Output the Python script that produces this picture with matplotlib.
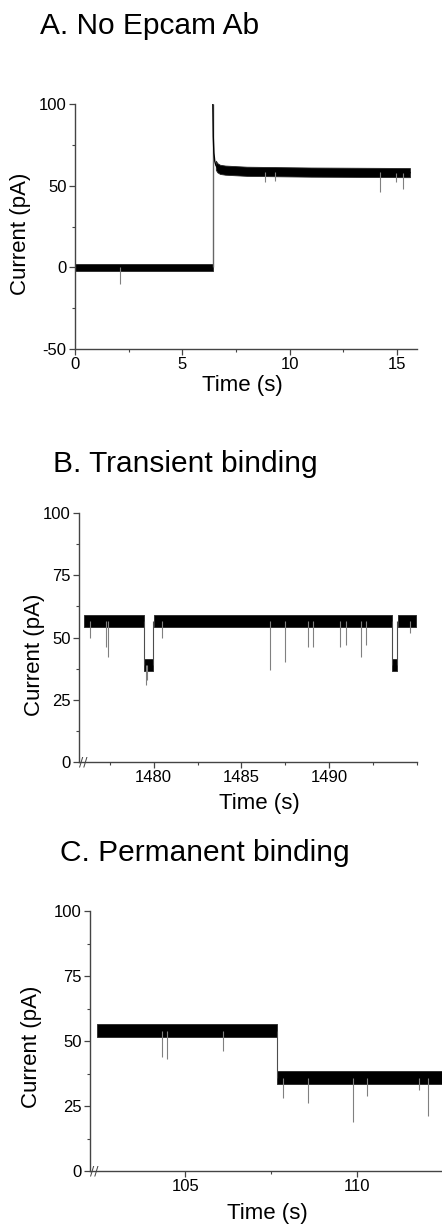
#!/usr/bin/env python3
import matplotlib
matplotlib.use('Agg')
import matplotlib.pyplot as plt
import numpy as np

plt.rcParams['font.family'] = ['Liberation Sans', 'DejaVu Sans']
plt.rcParams['axes.unicode_minus'] = False

# ---- panel A : no Epcam antibody ----
a_base_t = [0.0, 6.42]
a_base_i = [0.0, 0.0]
a_step_t = [6.44, 6.47, 6.51, 6.56, 6.63, 6.75, 7.0, 8.0, 11.0, 15.6]
a_step_i = [80.0, 70.0, 65.0, 62.5, 61.0, 60.0, 59.5, 58.8, 58.3, 58.0]
a_peak = 100.0
a_noise = [2.0, 2.8]
a_spike_t = [2.1, 8.85, 9.3, 14.2, 14.95, 15.3]
a_spike_min = [-10.0, 52.0, 53.0, 46.0, 52.0, 48.0]

# ---- panel B : transient binding ----
b_seg_start = [1476.05, 1479.45, 1480.02, 1493.55, 1493.92]
b_seg_end = [1479.45, 1479.95, 1493.55, 1493.88, 1494.95]
b_seg_level = [56.6, 39.0, 56.6, 39.0, 56.6]
b_noise = 2.3
b_spike_t = [1476.4, 1477.3, 1477.4, 1479.55, 1479.65, 1480.45, 1486.6, 1487.5,
             1488.8, 1489.05, 1490.6, 1490.95, 1491.8, 1492.1, 1494.6]
b_spike_min = [50.0, 46.0, 42.0, 31.0, 33.0, 50.0, 37.0, 40.0,
               46.0, 46.0, 46.0, 47.0, 42.0, 47.0, 52.0]

# ---- panel C : permanent binding ----
c_seg_start = [102.43, 107.68]
c_seg_end = [107.68, 112.48]
c_seg_level = [54.0, 35.8]
c_noise = 2.5
c_spike_t = [104.34, 104.47, 106.1, 107.85, 108.57, 109.9, 110.29, 111.8, 112.07]
c_spike_min = [44.0, 43.0, 46.0, 28.0, 26.0, 19.0, 29.0, 31.0, 21.0]

SPINE = '#444444'
SPIKE = '0.5'


def level_at(t, starts, ends, levels):
    for s, e, lv in zip(starts, ends, levels):
        if s <= t <= e:
            return lv
    return levels[-1]


def band(ax, t, lv, noise):
    t = np.asarray(t)
    lv = np.asarray(lv)
    ax.fill_between(t, lv - noise, lv + noise, color='black', lw=0.6, edgecolor='0.15')


def draw_segments(ax, starts, ends, levels, noise):
    for s, e, lv in zip(starts, ends, levels):
        band(ax, [s, e], [lv, lv], noise)
    for i in range(len(starts) - 1):
        lo = min(levels[i], levels[i + 1])
        hi = max(levels[i], levels[i + 1])
        ax.vlines(ends[i], lo, hi, color='0.3', lw=0.8)


def style(ax, xlim, ylim, xmaj, xmin, ymaj, ymin):
    ax.set_xlim(*xlim)
    ax.set_ylim(*ylim)
    for s in ['top', 'right']:
        ax.spines[s].set_visible(False)
    for s in ['left', 'bottom']:
        ax.spines[s].set_color(SPINE)
        ax.spines[s].set_linewidth(1.0)
    ax.set_xticks(xmaj)
    ax.set_xticks(xmin, minor=True)
    ax.set_yticks(ymaj)
    ax.set_yticks(ymin, minor=True)
    ax.tick_params(which='major', direction='out', length=4, width=0.9, color=SPINE,
                   labelsize=12, pad=2)
    ax.tick_params(which='minor', direction='out', length=2.5, width=0.8, color=SPINE)
    ax.set_xlabel('Time (s)', fontsize=16)
    ax.set_ylabel('Current (pA)', fontsize=16)


def break_mark(ax):
    ax.text(0.0, 0.0, '//', transform=ax.transAxes, ha='left', va='center',
            fontsize=9, color=SPINE, family='DejaVu Sans')


W, H = 442, 1228
fig = plt.figure(figsize=(W / 100, H / 100), dpi=100)


def axes_px(left, right, top, bottom):
    return fig.add_axes([left / W, 1 - bottom / H, (right - left) / W, (bottom - top) / H])


# panel A
ax = axes_px(75, 417, 104, 349)
band(ax, a_base_t, a_base_i, a_noise[0])
ax.vlines(a_base_t[-1], a_base_i[-1], a_peak, color='0.4', lw=1.0)
ax.plot([a_base_t[-1]] + a_step_t, [a_peak] + a_step_i, color='black', lw=1.0)
band(ax, a_step_t[3:], a_step_i[3:], a_noise[1])
ax.vlines(a_spike_t, a_spike_min,
          [0.0 if t < a_base_t[-1] else np.interp(t, a_step_t, a_step_i) for t in a_spike_t],
          color=SPIKE, lw=0.8)
style(ax, (0, 15.93), (-50, 100), [0, 5, 10, 15], [2.5, 7.5, 12.5],
      [-50, 0, 50, 100], [-25, 25, 75])
ax.xaxis.set_label_coords(0.49, -0.105)
ax.yaxis.set_label_coords(-0.13, 0.47)

# panel B
ax = axes_px(79, 417, 513, 762)
draw_segments(ax, b_seg_start, b_seg_end, b_seg_level, b_noise)
ax.vlines(b_spike_t, b_spike_min,
          [level_at(t, b_seg_start, b_seg_end, b_seg_level) for t in b_spike_t],
          color=SPIKE, lw=0.8)
style(ax, (1475.75, 1495.0), (0, 100), [1480, 1485, 1490],
      [1477.5, 1482.5, 1487.5, 1492.5, 1495], [0, 25, 50, 75, 100], [12.5, 37.5, 62.5, 87.5])
ax.xaxis.set_label_coords(0.535, -0.125)
ax.yaxis.set_label_coords(-0.10, 0.43)
break_mark(ax)

# panel C
ax = axes_px(90, 442, 911, 1171)
draw_segments(ax, c_seg_start, c_seg_end, c_seg_level, c_noise)
ax.vlines(c_spike_t, c_spike_min,
          [level_at(t, c_seg_start, c_seg_end, c_seg_level) for t in c_spike_t],
          color=SPIKE, lw=0.8)
style(ax, (102.23, 112.48), (0, 100), [105, 110], [107.5],
      [0, 25, 50, 75, 100], [12.5, 37.5, 62.5, 87.5])
ax.xaxis.set_label_coords(0.503, -0.125)
ax.yaxis.set_label_coords(-0.135, 0.477)
break_mark(ax)

# panel titles
fig.text(40 / W, 1 - 34 / H, 'A. No Epcam Ab', fontsize=21.5, va='baseline')
fig.text(53 / W, 1 - 472 / H, 'B. Transient binding', fontsize=21.5, va='baseline')
fig.text(60 / W, 1 - 861 / H, 'C. Permanent binding', fontsize=21.5, va='baseline')

fig.savefig('out.png', dpi=100)
